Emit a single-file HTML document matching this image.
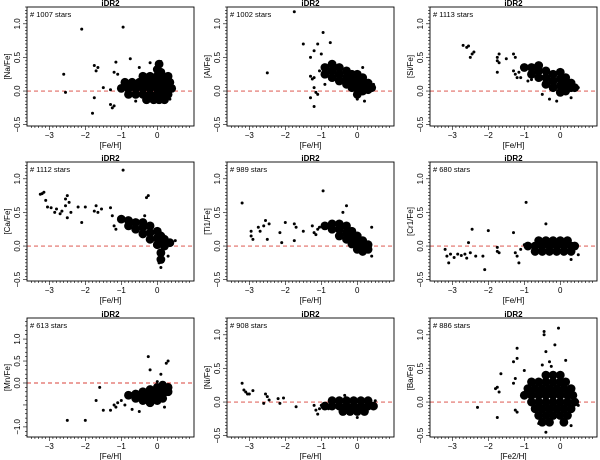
<!DOCTYPE html>
<html><head><meta charset="utf-8"><style>
html,body{margin:0;padding:0;background:#fff;}
svg{display:block;font-family:"Liberation Sans",Arial,sans-serif;}
</style></head><body>
<svg id="fig" width="600" height="460" viewBox="0 0 600 460"></svg>
<script>
// ---- data ----
const panelTitles = ["[Na/Fe]","[Al/Fe]","[Si/Fe]","[Ca/Fe]","[Ti1/Fe]","[Cr1/Fe]","[Mn/Fe]","[Ni/Fe]","[Ba/Fe]"];
const xTitles = ["[Fe/H]","[Fe/H]","[Fe/H]","[Fe/H]","[Fe/H]","[Fe/H]","[Fe/H]","[Fe/H]","[Fe2/H]"];
const starCounts = ["# 1007 stars","# 1002 stars","# 1113 stars","# 1112 stars","# 989 stars","# 680 stars","# 613 stars","# 908 stars","# 886 stars"];
const xTicks = [-3,-2,-1,0];
const yTicksStd = [-0.5,0,0.5,1.0];
const yTicksMn = [-1.0,-0.5,0,0.5,1.0];

const naCore=[[-.4,.22],[-.2,.22],[0,.22],[.15,.22],[.3,.22],[-.9,.13],[-.7,.13],[-.5,.13],[-.3,.13],[-.1,.13],[.05,.13],[.2,.13],[.35,.13],[-1,.04],[-.8,.04],[-.6,.04],[-.4,.04],[-.2,.04],[0,.04],[.15,.04],[.3,.04],[.4,.04],[-.8,-.05],[-.6,-.05],[-.4,-.05],[-.2,-.05],[0,-.05],[.15,-.05],[.3,-.05],[-.3,-.13],[-.1,-.13],[.05,-.13],[.2,-.13],[0,.32],[.05,.4],[.1,.28]];
const naOut=[[-2.1,.92],[-.95,.95],[-2.6,.25],[-2.55,-.02],[-1.75,.38],[-1.7,.3],[-1.65,.35],[-1.75,-.1],[-1.8,-.33],[-1.5,.05],[-1.3,-.2],[-1.25,-.25],[-1.2,-.22],[-1.15,.43],[-1.2,.28],[-1.1,.25],[-1,0],[-1.3,.02],[-.75,.48],[-.6,-.15],[-.5,.35],[.1,.44],[.35,-.12],[-.2,.42]];
const alCore=[[-.9,.25],[-.9,.35],[-.7,.2],[-.7,.3],[-.7,.4],[-.5,.15],[-.5,.25],[-.5,.35],[-.3,.1],[-.3,.2],[-.3,.3],[-.15,.05],[-.15,.15],[-.15,.25],[0,-.05],[0,.05],[0,.15],[0,.25],[.15,0],[.15,.1],[.15,.2],[.3,.02],[.3,.12],[.4,.05]];
const alOut=[[-1.75,1.18],[-2.5,.27],[-.95,.87],[-1.5,.7],[-1.1,.7],[-.75,.72],[-1.2,.6],[-1.3,.5],[-1,.55],[-1.2,.2],[-1.25,.18],[-1.3,.22],[-1.2,.05],[-1.15,-.02],[-1.3,-.1],[-1.2,-.23],[-1.1,-.05],[-1.05,.3],[-.9,.1],[.2,-.15],[0,-.12],[.15,.35],[.45,.1]];
const siCore=[[-1,.35],[-.8,.25],[-.8,.35],[-.6,.2],[-.6,.3],[-.6,.38],[-.4,.1],[-.4,.2],[-.4,.3],[-.2,.05],[-.2,.15],[-.2,.25],[0,-.02],[0,.08],[0,.18],[0,.28],[.15,0],[.15,.1],[.15,.2],[.3,.05],[.3,.12],[.4,.05]];
const siOut=[[-2.7,.68],[-2.6,.65],[-2.55,.67],[-2.5,.5],[-2.45,.55],[-2.4,.58],[-1.75,.5],[-1.75,.45],[-1.7,.42],[-1.75,.28],[-1.7,.55],[-1.5,.48],[-1.3,.55],[-1.25,.5],[-1.3,.3],[-1.25,.25],[-1.2,.2],[-1.15,.28],[-1.1,.2],[-.9,.15],[-.8,.17],[-.5,-.05],[-.3,-.12],[-.1,-.15],[.3,-.1],[.5,.05]];
const caCore=[[-1,.4],[-.8,.3],[-.8,.38],[-.6,.25],[-.6,.35],[-.4,.18],[-.4,.28],[-.4,.35],[-.2,.1],[-.2,.2],[-.2,.3],[0,.02],[0,.12],[0,.22],[.1,-.1],[.1,-.2],[.1,.05],[.1,.15],[.2,0],[.2,.1],[.35,.05]];
const caOut=[[-3.25,.77],[-3.2,.78],[-3.15,.8],[-3.1,.68],[-3.05,.58],[-2.95,.57],[-2.85,.5],[-2.8,.55],[-2.7,.48],[-2.65,.52],[-2.55,.7],[-2.5,.75],[-2.45,.65],[-2.55,.6],[-2.5,.42],[-2.4,.5],[-2.2,.58],[-2.1,.35],[-2,.58],[-1.75,.52],[-1.7,.6],[-1.65,.5],[-1.55,.55],[-1.3,.57],[-1.25,.45],[-1.2,.3],[-1.15,.25],[-.95,1.13],[-.3,.72],[-.25,.75],[-.35,.45],[.1,-.32],[.3,-.15],[.5,.08],[.05,-.25]];
const tiCore=[[-.9,.3],[-.7,.25],[-.7,.33],[-.5,.15],[-.5,.25],[-.5,.33],[-.3,.1],[-.3,.2],[-.3,.3],[-.15,.03],[-.15,.12],[-.15,.22],[0,-.05],[0,.05],[0,.15],[.15,-.08],[.15,0],[.15,.08],[.3,-.05],[.3,.02]];
const tiOut=[[-3.2,.64],[-2.95,.22],[-2.95,.15],[-2.9,.1],[-2.75,.28],[-2.7,.22],[-2.6,.3],[-2.55,.38],[-2.5,.1],[-2.45,.33],[-2.15,.2],[-2.1,.05],[-2,.35],[-1.75,.33],[-1.7,.28],[-1.75,.08],[-1.5,.22],[-1.25,.3],[-1.2,.2],[-1.15,.17],[-1.1,.25],[-1.05,.28],[-.95,.82],[-.3,.6],[-.4,.5],[.4,.28],[.4,-.15]];
const crCore=[[-.6,.08],[-.4,.08],[-.2,.08],[0,.08],[.2,.08],[-.9,0],[-.7,0],[-.5,0],[-.3,0],[-.1,0],[.1,0],[.3,0],[.4,0],[-.7,-.08],[-.5,-.08],[-.3,-.08],[-.1,-.08],[.1,-.08],[.3,-.08]];
const crOut=[[-3.2,-.05],[-3.15,-.15],[-3.1,-.25],[-3.05,-.12],[-2.95,-.17],[-2.85,-.12],[-2.75,-.14],[-2.65,-.12],[-2.6,-.18],[-2.55,.05],[-2.5,-.1],[-2.45,.25],[-2.35,-.15],[-2.15,-.15],[-2.1,-.35],[-2,.23],[-1.75,-.02],[-1.75,-.08],[-1.7,-.1],[-1.3,.2],[-1.25,-.1],[-1.2,-.15],[-1.15,-.25],[-1.1,-.05],[-.95,.65],[-.4,.33],[-1,.02],[.5,-.13],[.3,-.2]];
const mnCore=[[-.8,-.28],[-.6,-.25],[-.6,-.35],[-.4,-.2],[-.4,-.3],[-.4,-.4],[-.2,-.15],[-.2,-.25],[-.2,-.35],[-.2,-.45],[0,-.1],[0,-.2],[0,-.3],[0,-.4],[.15,-.05],[.15,-.15],[.15,-.25],[.15,-.35],[.3,-.1],[.3,-.2]];
const mnOut=[[-2.5,-.85],[-2,-.85],[-1.7,-.4],[-1.6,-.1],[-1.5,-.62],[-1.3,-.62],[-1.2,-.5],[-1.15,-.55],[-1.1,-.45],[-1,-.4],[-.9,-.5],[-.7,-.6],[-.5,-.65],[-.25,.6],[-.2,.3],[.25,.45],[.3,.5],[.1,.2],[0,.03],[.2,-.55]];
const niCore=[[-.7,.02],[-.5,.02],[-.3,.02],[-.1,.02],[.1,.02],[.3,.02],[-.9,-.06],[-.7,-.06],[-.5,-.06],[-.3,-.06],[-.1,-.06],[.1,-.06],[.3,-.06],[.45,-.06],[-.4,-.14],[-.2,-.14],[0,-.14],[.2,-.14]];
const niOut=[[-3.2,.28],[-3.15,.18],[-3.1,.15],[-3.05,.12],[-3,.12],[-2.9,.17],[-2.6,-.02],[-2.55,.12],[-2.5,.08],[-2.45,.03],[-2.2,.05],[-2.15,-.02],[-2.05,.06],[-1.7,-.07],[-1.2,-.05],[-1.15,-.12],[-1.1,-.18],[-1.05,-.1],[-1,-.05],[-.8,-.1],[-.35,.1],[.5,.02],[0,-.23]];
const baCore=[[-.4,.4],[-.2,.4],[0,.4],[-.8,.3],[-.6,.3],[-.4,.3],[-.2,.3],[0,.3],[.15,.3],[-.9,.2],[-.7,.2],[-.5,.2],[-.3,.2],[-.1,.2],[.1,.2],[.3,.2],[-1,.1],[-.8,.1],[-.6,.1],[-.4,.1],[-.2,.1],[0,.1],[.2,.1],[.35,.1],[-.8,0],[-.6,0],[-.4,0],[-.2,0],[0,0],[.2,0],[.4,0],[-.7,-.1],[-.5,-.1],[-.3,-.1],[-.1,-.1],[.1,-.1],[.3,-.1],[-.6,-.2],[-.4,-.2],[-.2,-.2],[0,-.2],[.2,-.2],[-.5,-.3],[-.3,-.3],[.1,-.3]];
const baOut=[[-2.3,-.08],[-1.8,.2],[-1.75,.22],[-1.75,-.23],[-1.7,.15],[-1.65,.42],[-1.3,.6],[-1.2,.8],[-1.2,.65],[-1.25,.35],[-1.3,.28],[-1.2,-.15],[-1.25,-.12],[-1,.47],[-.45,1.05],[-.45,1],[-.05,1.1],[-.15,.85],[-.4,.75],[-.3,.6],[-.5,.55],[-.25,.53],[.15,.62],[-.4,-.45],[-.6,-.32],[.3,-.35],[.5,-.05]];

const coreSets=[naCore,alCore,siCore,caCore,tiCore,crCore,mnCore,niCore,baCore];
const outSets=[naOut,alOut,siOut,caOut,tiOut,crOut,mnOut,niOut,baOut];
const panelKeys=["na","al","si","ca","ti","cr","mn","ni","ba"];

// ---- layout ----
const NS="http://www.w3.org/2000/svg";
const svg=document.getElementById('fig');
const colL=[27,227,430], rowT=[7,162,318], W=167, H=119;
const XMIN=-3.62, XMAX=1.02;
function mk(tag,attrs,parent){const e=document.createElementNS(NS,tag);for(const k in attrs)e.setAttribute(k,attrs[k]);(parent||svg).appendChild(e);return e;}

for(let i=0;i<9;i++){
  const L=colL[i%3], T=rowT[Math.floor(i/3)];
  const isMn=i===6;
  const YMAX=isMn?1.48:1.25, YMIN=isMn?-1.23:-0.52;
  const xs=v=>L+(v-XMIN)/(XMAX-XMIN)*W;
  const ys=v=>T+(YMAX-v)/(YMAX-YMIN)*H;
  const g=mk('g',{});
  
  
  const t=mk('text',{x:L+W/2,y:T-1,'text-anchor':'middle','font-size':'8','font-weight':'bold'},g);
  t.textContent='iDR2';
  
  
  const c=mk('text',{x:L+3,y:T+10,'font-size':'7.5'},g);
  c.textContent=starCounts[i];
  
  
  const zl=mk('line',{x1:L,x2:L+W,y1:ys(0),y2:ys(0),stroke:'#d9413a','stroke-width':'0.9','stroke-dasharray':'4,3'},g);
  
  
  for(const p of coreSets[i]){const d=mk('circle',{cx:xs(p[0]),cy:ys(p[1]),r:4.4,fill:'#000'},g);
    
    }
  for(const p of outSets[i]){const d=mk('circle',{cx:xs(p[0]),cy:ys(p[1]),r:1.5,fill:'#000'},g);
    
    }
  const b=mk('rect',{x:L,y:T,width:W,height:H,fill:'none',stroke:'#000','stroke-width':'0.9'},g);
  
  
  const B=T+H;
  for(let v=-35;v<=9;v++){const xv=v/10;const px=xs(xv);if(px<L||px>L+W)continue;
    const major=v%10===0 && v>=-30 && v<=0;
    mk('line',{x1:px,x2:px,y1:B,y2:B+(major?4:2),stroke:'#000','stroke-width':'0.6'},g);}
  for(const v of xTicks){const tl=mk('text',{x:xs(v),y:B+12,'text-anchor':'middle','font-size':'8'},g);
    tl.textContent=v<0?'\u2212'+Math.abs(v):String(v);
    
    }
  const xt=mk('text',{x:L+W/2,y:B+22,'text-anchor':'middle','font-size':'8'},g);
  xt.textContent=xTitles[i];
  
  
  const yt=isMn?yTicksMn:yTicksStd;
  const step=isMn?0.1:0.05;
  for(let k=Math.ceil(YMIN/step);k<=Math.floor(YMAX/step);k++){const v=k*step;const py=ys(v);
    const major=yt.some(q=>Math.abs(q-v)<1e-6);
    mk('line',{x1:L-(major?4:2),x2:L,y1:py,y2:py,stroke:'#000','stroke-width':'0.6'},g);}
  for(const v of yt){ if(isMn && v===-0.5) continue;
    const s=v===0?'0.0':(v<0?'\u2212'+Math.abs(v).toFixed(1):v.toFixed(1));
    const py=ys(v);
    const tl=mk('text',{x:L-7,y:py,'text-anchor':'middle','font-size':'8',transform:`rotate(-90 ${L-7} ${py})`},g);
    tl.textContent=s;
    
    }
  const yx=L-17, yy=T+H/2;
  const ya=mk('text',{x:yx,y:yy,'text-anchor':'middle','font-size':'8',transform:`rotate(-90 ${yx} ${yy})`},g);
  ya.textContent=panelTitles[i];
  
  
}
</script>
</body></html>
